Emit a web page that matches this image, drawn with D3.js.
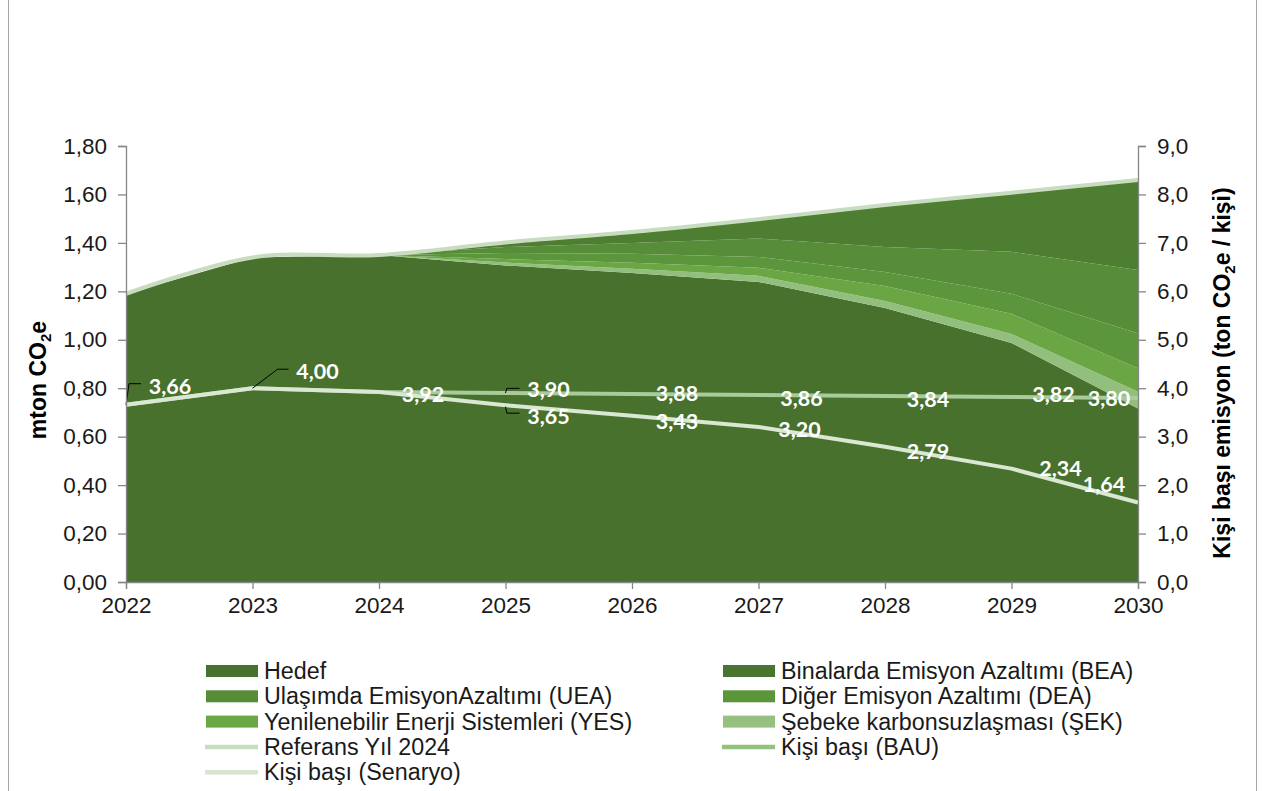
<!DOCTYPE html>
<html lang="tr">
<head>
<meta charset="utf-8">
<script src="https://cdn.jsdelivr.net/npm/d3@7/dist/d3.min.js"></script>
<style>
  html, body { margin: 0; padding: 0; background: #ffffff; }
  svg { display: block; }
  .tick text { font-family: "Liberation Sans", Arial, sans-serif; font-size: 22.5px; fill: #1a1a1a; }
</style>
</head>
<body>
<svg id="chart" width="1265" height="791"></svg>
<script>
// ---- Data -------------------------------------------------------------
const years = [2022, 2023, 2024, 2025, 2026, 2027, 2028, 2029, 2030];

// Emissions, mton CO2e (stacked areas, bottom to top)
const hedef = [1.19, 1.34, 1.35, 1.307, 1.276, 1.239, 1.131, 0.987, 0.716];
const sek   = [0, 0, 0, 0.012, 0.017, 0.025, 0.029, 0.037, 0.069];
const yes   = [0, 0, 0, 0.014, 0.025, 0.033, 0.062, 0.083, 0.097];
const dea   = [0, 0, 0, 0.025, 0.037, 0.045, 0.058, 0.083, 0.145];
const uea   = [0, 0, 0, 0.025, 0.045, 0.076, 0.103, 0.173, 0.261];
const bea   = [0, 0, 0, 0.019, 0.045, 0.080, 0.173, 0.244, 0.372];

// Reference total line, mton CO2e
const referans = [1.19, 1.34, 1.35, 1.402, 1.445, 1.498, 1.556, 1.607, 1.66];

// Per-capita emissions, ton CO2e / person (right axis)
const perCapitaBAU      = [3.66, 4.00, 3.92, 3.90, 3.88, 3.86, 3.84, 3.82, 3.80];
const perCapitaScenario = [3.66, 4.00, 3.92, 3.65, 3.43, 3.20, 2.79, 2.34, 1.64];

// Axis ticks
const leftTicks  = [0, 0.2, 0.4, 0.6, 0.8, 1.0, 1.2, 1.4, 1.6, 1.8];
const rightTicks = [0, 1, 2, 3, 4, 5, 6, 7, 8, 9];

// Series names
const areaNames = {
  hedef: "Hedef",
  bea: "Binalarda Emisyon Azaltımı (BEA)",
  uea: "Ulaşımda EmisyonAzaltımı (UEA)",
  dea: "Diğer Emisyon Azaltımı (DEA)",
  yes: "Yenilenebilir Enerji Sistemleri (YES)",
  sek: "Şebeke karbonsuzlaşması (ŞEK)"
};
const lineNames = {
  referans: "Referans Yıl 2024",
  bau: "Kişi başı (BAU)",
  senaryo: "Kişi başı (Senaryo)"
};

// ---- Styling ----------------------------------------------------------
const colors = {
  hedef: "#48712d",
  bea:   "#4e7e31",
  uea:   "#578c38",
  dea:   "#5c963c",
  yes:   "#6aa744",
  sek:   "#93bf7e",
  referans: "#c8dcc0",
  bau:      "#a8cb99",
  senaryo:  "#d9e7d3"
};
const legendSwatch = {
  hedef: "#48702e", bea: "#4a7531", uea: "#578c37",
  dea: "#5a953a", yes: "#6aa745", sek: "#95c080",
  referans: "#c8dcc0", bau: "#93c27e", senaryo: "#d6e4d0"
};

const plot = { left: 126, right: 1138, top: 146, bottom: 582 };

const svg = d3.select("#chart");

const x = d3.scaleLinear().domain([2022, 2030]).range([plot.left, plot.right]);
const yL = d3.scaleLinear().domain([0, 1.8]).range([plot.bottom, plot.top]);
const yR = d3.scaleLinear().domain([0, 9]).range([plot.bottom, plot.top]);

const locale = d3.formatLocale({ decimal: ",", thousands: ".", grouping: [3], currency: ["", ""] });
const fmt2 = locale.format(".2f");
const fmt1 = locale.format(".1f");

// Outer frame (side edges)
svg.append("line").attr("x1", 8.5).attr("x2", 8.5).attr("y1", 0).attr("y2", 791)
  .attr("stroke", "#a6a6a6").attr("stroke-width", 1);
svg.append("line").attr("x1", 1256.5).attr("x2", 1256.5).attr("y1", 0).attr("y2", 791)
  .attr("stroke", "#a6a6a6").attr("stroke-width", 1);

// ---- Stacked areas ----------------------------------------------------
const keys = ["hedef", "sek", "yes", "dea", "uea", "bea"];
const seriesByKey = { hedef, sek, yes, dea, uea, bea };
const table = years.map((yr, i) => {
  const row = { year: yr };
  keys.forEach(k => row[k] = seriesByKey[k][i]);
  return row;
});
const stacked = d3.stack().keys(keys)(table);

const area = d3.area()
  .x(d => x(d.data.year))
  .y0(d => yL(d[0]))
  .y1(d => yL(d[1]));

svg.append("g").selectAll("path")
  .data(stacked)
  .join("path")
  .attr("d", area)
  .attr("fill", d => colors[d.key]);

// ---- Lines ------------------------------------------------------------
const refLine = d3.line()
  .x((d, i) => x(years[i]))
  .y(d => yL(d))
  .curve(d3.curveCatmullRom.alpha(0.5));

svg.append("path")
  .attr("d", refLine(referans))
  .attr("fill", "none")
  .attr("stroke", colors.referans)
  .attr("stroke-width", 4)
  .attr("stroke-linejoin", "round");

const pcLine = d3.line()
  .x((d, i) => x(years[i]))
  .y(d => yR(d));

svg.append("path")
  .attr("d", pcLine(perCapitaBAU))
  .attr("fill", "none")
  .attr("stroke", colors.bau)
  .attr("stroke-width", 4)
  .attr("stroke-linejoin", "round");

svg.append("path")
  .attr("d", pcLine(perCapitaScenario))
  .attr("fill", "none")
  .attr("stroke", colors.senaryo)
  .attr("stroke-width", 4)
  .attr("stroke-linejoin", "round");

// ---- Data labels ------------------------------------------------------
// [index, dx, dy] pixel offsets from the data point
const bauLabelLayout = [
  [0, 44, -19], [1, 65, -17.5], [2, 44, 2], [3, 43, -4], [4, 45, -1],
  [5, 43, 2.5], [6, 43, 3], [7, 42, -3], [8, -29, 0]
];
const scenarioLabelLayout = [
  [3, 43, 11], [4, 45, 5], [5, 41, 2], [6, 43, 4], [7, 49, -1], [8, -34, -18.5]
];
// leader lines: [series, index, list of offsets]
const leaders = [
  ["bau", 0, [[0, 0], [3, -21], [15, -21]]],
  ["bau", 1, [[0, 0], [25, -19], [36, -19]]],
  ["bau", 3, [[14, -4.7], [1.3, -4.7], [0, 0]]],
  ["senaryo", 3, [[0, 1.5], [1.3, 8], [14, 8]]]
];

const labelG = svg.append("g");
leaders.forEach(([s, i, pts]) => {
  const vals = s === "bau" ? perCapitaBAU : perCapitaScenario;
  const px = x(years[i]), py = yR(vals[i]);
  labelG.append("path")
    .attr("d", d3.line()(pts.map(p => [px + p[0], py + p[1]])))
    .attr("fill", "none")
    .attr("stroke", "#000")
    .attr("stroke-width", 1);
});

function drawLabels(layout, vals) {
  layout.forEach(([i, dx, dy]) => {
    labelG.append("text")
      .attr("x", x(years[i]) + dx)
      .attr("y", yR(vals[i]) + dy)
      .attr("text-anchor", "middle")
      .attr("dominant-baseline", "central")
      .attr("font-family", "Lato, 'Open Sans', sans-serif")
      .attr("font-weight", 700)
      .attr("font-size", 21.5)
      .attr("fill", "#ffffff")
      .text(fmt2(vals[i]));
  });
}
drawLabels(bauLabelLayout, perCapitaBAU);
drawLabels(scenarioLabelLayout, perCapitaScenario);

// ---- Axes -------------------------------------------------------------
const axisColor = "#868686";

const gL = svg.append("g")
  .attr("transform", `translate(${plot.left},0)`)
  .call(d3.axisLeft(yL).tickValues(leftTicks).tickFormat(fmt2).tickSize(8).tickPadding(11));

const gR = svg.append("g")
  .attr("transform", `translate(${plot.right},0)`)
  .call(d3.axisRight(yR).tickValues(rightTicks).tickFormat(fmt1).tickSize(8).tickPadding(11));

const gB = svg.append("g")
  .attr("transform", `translate(0,${plot.bottom})`)
  .call(d3.axisBottom(x).tickValues(years).tickFormat(d => String(d)).tickSize(7).tickPadding(8));

[gL, gR, gB].forEach(g => {
  g.select(".domain").attr("stroke", axisColor).attr("stroke-width", 1.3);
  g.selectAll(".tick line").attr("stroke", axisColor).attr("stroke-width", 1.3);
});

// Axis titles
const titleFont = "'Liberation Sans', Arial, sans-serif";
const tL = svg.append("text")
  .attr("transform", "translate(46,380) rotate(-90)")
  .attr("text-anchor", "middle")
  .attr("font-family", titleFont)
  .attr("font-weight", 700)
  .attr("font-size", 23)
  .attr("fill", "#000");
tL.append("tspan").text("mton CO");
tL.append("tspan").attr("dy", 5).attr("font-size", 15).text("2");
tL.append("tspan").attr("dy", -5).text("e");

const tR = svg.append("text")
  .attr("transform", "translate(1230,373) rotate(-90)")
  .attr("text-anchor", "middle")
  .attr("font-family", titleFont)
  .attr("font-weight", 700)
  .attr("font-size", 23)
  .attr("fill", "#000");
tR.append("tspan").text("Kişi başı emisyon (ton CO");
tR.append("tspan").attr("dy", 5).attr("font-size", 15).text("2");
tR.append("tspan").attr("dy", -5).text("e / kişi)");

// ---- Legend -----------------------------------------------------------
const legendItems = [
  { key: "hedef", type: "area" }, { key: "bea", type: "area" },
  { key: "uea", type: "area" },   { key: "dea", type: "area" },
  { key: "yes", type: "area" },   { key: "sek", type: "area" },
  { key: "referans", type: "line" }, { key: "bau", type: "line" },
  { key: "senaryo", type: "line" }
];
const legendCols = [206, 723];
const legendTop = 671;
const legendStep = 25.3;

const lg = svg.append("g");
legendItems.forEach((item, idx) => {
  const col = idx % 2, row = Math.floor(idx / 2);
  const lx = legendCols[col], ly = legendTop + row * legendStep;
  if (item.type === "area") {
    lg.append("rect").attr("x", lx).attr("y", ly - 6).attr("width", 52).attr("height", 12)
      .attr("fill", legendSwatch[item.key]);
  } else {
    lg.append("line").attr("x1", lx - 1).attr("x2", lx + 52).attr("y1", ly).attr("y2", ly)
      .attr("stroke", legendSwatch[item.key]).attr("stroke-width", 4.5);
  }
  lg.append("text")
    .attr("x", lx + 58)
    .attr("y", ly)
    .attr("dominant-baseline", "central")
    .attr("font-family", titleFont)
    .attr("font-size", 23.3)
    .attr("fill", "#1a1a1a")
    .text(item.type === "area" ? areaNames[item.key] : lineNames[item.key]);
});
</script>
</body>
</html>
